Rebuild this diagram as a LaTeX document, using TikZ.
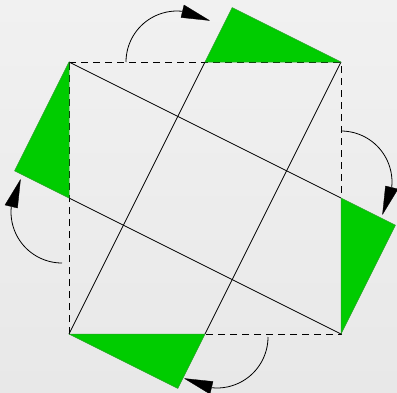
\documentclass[tikz,border=0pt]{standalone}
\definecolor{bgtop}{RGB}{241,241,241}
\definecolor{bgbot}{RGB}{232,232,232}
\definecolor{piecegreen}{RGB}{0,204,0}
\definecolor{pieceedge}{RGB}{40,160,40}
\begin{document}
\begin{tikzpicture}[x=1pt,y=1pt,line join=round,
  sqedge/.style={draw=black,line width=0.8pt,dash pattern=on 7pt off 5pt},
  cutline/.style={draw=black,line width=0.8pt},
  piece/.style={fill=piecegreen,draw=pieceedge,line width=0.5pt},
  turnarc/.style={draw=black,line width=0.8pt},
  turntip/.style={fill=black,draw=black,line width=0.3pt}]
\shade[top color=bgtop,bottom color=bgbot] (0,0) rectangle (397,-392);
\useasboundingbox (0,0) rectangle (397,-392);
% square corners and midpoints
\coordinate (A) at (69,-62);
\coordinate (B) at (341,-62);
\coordinate (C) at (341,-334);
\coordinate (D) at (69,-334);
\coordinate (MT) at (205,-62);
\coordinate (MR) at (341,-198);
\coordinate (MB) at (205,-334);
\coordinate (ML) at (69,-198);
\coordinate (P1) at (232.2,-7.6);
\coordinate (P2) at (395.4,-225.2);
\coordinate (P3) at (177.8,-388.4);
\coordinate (P4) at (14.6,-170.8);
% dashed square
\draw[sqedge] (A) -- (B) -- (C) -- (D) -- cycle;
% cut lines
\draw[cutline] (A) -- (MR);
\draw[cutline] (B) -- (MB);
\draw[cutline] (C) -- (ML);
\draw[cutline] (D) -- (MT);
% green pieces
\filldraw[piece] (MT) -- (B) -- (P1) -- cycle;
\filldraw[piece] (MR) -- (C) -- (P2) -- cycle;
\filldraw[piece] (MB) -- (D) -- (P3) -- cycle;
\filldraw[piece] (ML) -- (A) -- (P4) -- cycle;
% turning arrows
\coordinate (S1) at (126,-62);
\coordinate (S2) at (341,-131);
\coordinate (S3) at (268,-337);
\coordinate (S4) at (62,-263);
\draw[turnarc] (S1) arc[start angle=180,end angle=84,radius=51pt];
\draw[turnarc] (S2) arc[start angle=90,end angle=-6,radius=51pt];
\draw[turnarc] (S3) arc[start angle=0,end angle=-96,radius=51pt];
\draw[turnarc] (S4) arc[start angle=-90,end angle=-186,radius=51pt];
\coordinate (T1) at (209.5,-20.5);
\coordinate (T1a) at (184,-5);
\coordinate (T1b) at (181,-17.5);
\coordinate (T2) at (382.5,-214.5);
\coordinate (T2a) at (398,-189);
\coordinate (T2b) at (385.5,-186);
\coordinate (T3) at (184.5,-378.5);
\coordinate (T3a) at (210,-394);
\coordinate (T3b) at (213,-381.5);
\coordinate (T4) at (20.5,-179.5);
\coordinate (T4a) at (5,-205);
\coordinate (T4b) at (17.5,-208);
\filldraw[turntip] (T1a) -- (T1) -- (T1b) -- cycle;
\filldraw[turntip] (T2a) -- (T2) -- (T2b) -- cycle;
\filldraw[turntip] (T3a) -- (T3) -- (T3b) -- cycle;
\filldraw[turntip] (T4a) -- (T4) -- (T4b) -- cycle;
\end{tikzpicture}
\end{document}
